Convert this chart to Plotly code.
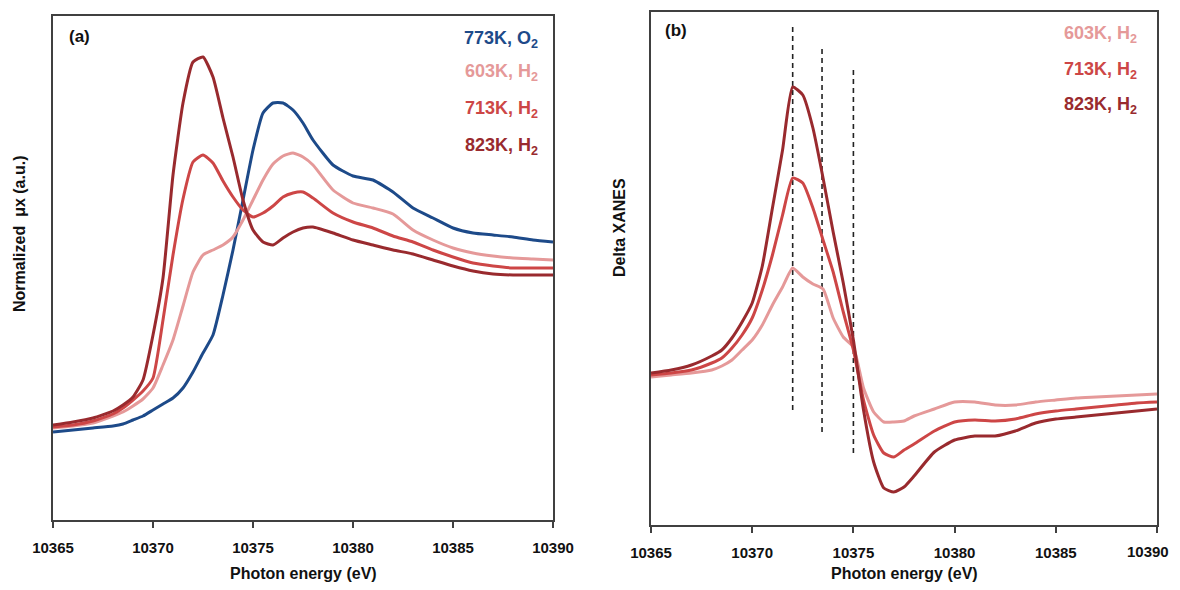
import plotly.graph_objects as go

# Photon energy grid (eV)
energy = [10365, 10366, 10367, 10368, 10368.5, 10369, 10369.5, 10370, 10370.5, 10371,
          10371.5, 10372, 10372.5, 10373, 10373.5, 10374, 10374.5, 10375, 10375.5, 10376,
          10376.5, 10377, 10377.5, 10378, 10379, 10380, 10381, 10382, 10383, 10384,
          10385, 10386, 10387, 10388, 10389, 10390]

# Panel (a): normalized absorption (a.u.)
mu_773_O2 = [0.00, 0.02, 0.04, 0.06, 0.08, 0.12, 0.16, 0.22, 0.28, 0.34, 0.44, 0.60, 0.79, 0.97,
             1.37, 1.82, 2.32, 2.82, 3.19, 3.29, 3.29, 3.22, 3.09, 2.92, 2.67, 2.56, 2.52, 2.40,
             2.24, 2.14, 2.04, 1.99, 1.97, 1.95, 1.92, 1.90]
mu_603_H2 = [0.04, 0.06, 0.09, 0.16, 0.20, 0.26, 0.33, 0.44, 0.67, 0.92, 1.26, 1.60, 1.77, 1.82,
             1.87, 1.95, 2.12, 2.32, 2.52, 2.68, 2.76, 2.79, 2.75, 2.67, 2.42, 2.29, 2.24, 2.18,
             2.02, 1.92, 1.84, 1.79, 1.76, 1.74, 1.73, 1.72]
mu_713_H2 = [0.05, 0.07, 0.11, 0.18, 0.24, 0.32, 0.41, 0.54, 1.12, 1.77, 2.33, 2.70, 2.77, 2.69,
             2.51, 2.35, 2.22, 2.15, 2.19, 2.26, 2.35, 2.39, 2.40, 2.34, 2.19, 2.10, 2.04, 1.96,
             1.90, 1.82, 1.75, 1.69, 1.66, 1.64, 1.64, 1.64]
mu_823_H2 = [0.07, 0.10, 0.14, 0.21, 0.27, 0.35, 0.52, 0.97, 1.54, 2.57, 3.29, 3.70, 3.75, 3.55,
             3.14, 2.75, 2.32, 2.02, 1.90, 1.87, 1.94, 2.00, 2.04, 2.05, 1.99, 1.92, 1.87, 1.82,
             1.78, 1.72, 1.66, 1.61, 1.58, 1.57, 1.57, 1.57]

# Panel (b): delta XANES
d_603_H2 = [-0.02, 0.00, 0.02, 0.05, 0.09, 0.15, 0.25, 0.35, 0.50, 0.70, 0.88, 1.07, 0.98, 0.91,
            0.86, 0.57, 0.38, 0.28, -0.13, -0.37, -0.47, -0.47, -0.46, -0.41, -0.34, -0.27,
            -0.27, -0.30, -0.30, -0.27, -0.25, -0.23, -0.22, -0.21, -0.20, -0.19]
d_713_H2 = [0.00, 0.02, 0.05, 0.12, 0.17, 0.27, 0.40, 0.57, 0.85, 1.20, 1.60, 1.97, 1.92, 1.67,
            1.35, 1.03, 0.63, 0.25, -0.25, -0.60, -0.78, -0.82, -0.75, -0.69, -0.56, -0.47,
            -0.45, -0.46, -0.44, -0.39, -0.36, -0.34, -0.32, -0.30, -0.28, -0.27]
d_823_H2 = [0.02, 0.05, 0.10, 0.19, 0.25, 0.37, 0.53, 0.72, 1.09, 1.67, 2.25, 2.88, 2.80, 2.47,
            1.97, 1.43, 0.92, 0.35, -0.35, -0.87, -1.13, -1.17, -1.12, -1.01, -0.77, -0.65,
            -0.61, -0.61, -0.56, -0.48, -0.44, -0.42, -0.40, -0.38, -0.36, -0.34]

# Dashed reference lines in panel (b)
dash_energy = [10372.0, 10373.45, 10375.0]
dash_top = [3.50, 3.28, 3.07]
dash_bottom = [-0.35, -0.57, -0.78]

x_ticks = [10365, 10370, 10375, 10380, 10385, 10390]
x_tick_labels = ["10365", "10370", "10375", "10380", "10385", "10390"]

C_BLUE = "#1d4a89"
C_PINK = "#e59999"
C_RED = "#cd4646"
C_DARK = "#992a2e"

FONT = "Liberation Sans"
AX = "#404040"

fig = go.Figure()

def add_line(x, y, color, xa, ya, name):
    fig.add_trace(go.Scatter(x=x, y=y, mode="lines", name=name,
                             line=dict(color=color, width=3, shape="spline", smoothing=0.5),
                             xaxis=xa, yaxis=ya, showlegend=False, hoverinfo="skip"))

# Panel (a)
add_line(energy, mu_773_O2, C_BLUE, "x", "y", "773K, O2")
add_line(energy, mu_603_H2, C_PINK, "x", "y", "603K, H2")
add_line(energy, mu_713_H2, C_RED, "x", "y", "713K, H2")
add_line(energy, mu_823_H2, C_DARK, "x", "y", "823K, H2")

# Panel (b) dashed lines
for e, t, b in zip(dash_energy, dash_top, dash_bottom):
    fig.add_trace(go.Scatter(x=[e, e], y=[b, t], mode="lines",
                             line=dict(color="#222222", width=1.6, dash="5px,4px"),
                             xaxis="x2", yaxis="y2", showlegend=False, hoverinfo="skip"))

add_line(energy, d_603_H2, C_PINK, "x2", "y2", "603K, H2")
add_line(energy, d_713_H2, C_RED, "x2", "y2", "713K, H2")
add_line(energy, d_823_H2, C_DARK, "x2", "y2", "823K, H2")

# The page body has an 8px margin: size the figure so the page does not scroll,
# and place everything in page pixels.
OFF = 8
W, H = 1180 - OFF, 590 - 2 * OFF

def xd(a, b):
    return [(a - OFF) / W, (b - OFF) / W]

def yd(top, bottom):
    return [1 - (bottom - OFF) / H, 1 - (top - OFF) / H]

ticktext_a = ["<b>" + t + "</b>" for t in x_tick_labels]
# panel (b): the last label sits at the page edge, it is drawn separately (right-aligned) below
ticktext_b = ticktext_a[:-1] + [""]

xaxis_common = dict(range=[10365, 10390], tickvals=x_ticks,
                    ticks="outside", ticklen=6, automargin=False,
                    tickwidth=1.5, tickcolor=AX, showline=True, linecolor=AX, linewidth=1.5,
                    mirror=True, showgrid=False, zeroline=False, ticklabelstandoff=7,
                    tickfont=dict(family=FONT, size=15, color="#111111"))
yaxis_common = dict(showticklabels=False, ticks="", showline=True, linecolor=AX, linewidth=1.5,
                    mirror=True, showgrid=False, zeroline=False, automargin=False)

fig.update_layout(
    width=W, height=H, margin=dict(l=0, r=0, t=0, b=0, autoexpand=False),
    paper_bgcolor="white", plot_bgcolor="white",
    xaxis=dict(domain=xd(53, 553), anchor="y", ticktext=ticktext_a, **xaxis_common),
    yaxis=dict(domain=yd(16, 520), anchor="x", range=[-0.88, 4.16], **yaxis_common),
    xaxis2=dict(domain=xd(651, 1157), anchor="y2", ticktext=ticktext_b, **xaxis_common),
    yaxis2=dict(domain=yd(12, 525), anchor="x2", range=[-1.50, 3.63], **yaxis_common),
)

annotations = []

def txt(x, y, text, size=18, color="#111111", xanchor="right", angle=0):
    annotations.append(dict(x=(x - OFF) / W, y=1 - (y - OFF) / H, xref="paper", yref="paper",
                            text=text, showarrow=False, xanchor=xanchor, yanchor="middle",
                            textangle=angle, font=dict(family=FONT, size=size, color=color)))

txt(67, 36, "<b>(a)</b>", size=17, xanchor="left")
txt(663, 30, "<b>(b)</b>", size=17, xanchor="left")

labels_a = ["773K, O<sub>2</sub>", "603K, H<sub>2</sub>", "713K, H<sub>2</sub>", "823K, H<sub>2</sub>"]
colors_a = [C_BLUE, C_PINK, C_RED, C_DARK]
ys_a = [40, 73, 109, 146]
for t, c, yy in zip(labels_a, colors_a, ys_a):
    txt(540, yy, "<b>" + t + "</b>", color=c)

labels_b = ["603K, H<sub>2</sub>", "713K, H<sub>2</sub>", "823K, H<sub>2</sub>"]
colors_b = [C_PINK, C_RED, C_DARK]
ys_b = [35, 70, 105]
for t, c, yy in zip(labels_b, colors_b, ys_b):
    txt(1139, yy, "<b>" + t + "</b>", color=c)

# last tick label of panel (b), right-aligned at the page edge
txt(1171, 551, "<b>" + x_tick_labels[-1] + "</b>", size=15, xanchor="right")

# axis titles
txt(303, 573, "<b>Photon energy (eV)</b>", size=16, xanchor="center")
txt(904, 573, "<b>Photon energy (eV)</b>", size=16, xanchor="center")
txt(19, 234, "<b>Normalized  \u03bcx (a.u.)</b>", size=16, xanchor="center", angle=-90)
txt(620, 228, "<b>Delta XANES</b>", size=16, xanchor="center", angle=-90)

fig.update_layout(annotations=annotations)

fig.write_html("out.html")
